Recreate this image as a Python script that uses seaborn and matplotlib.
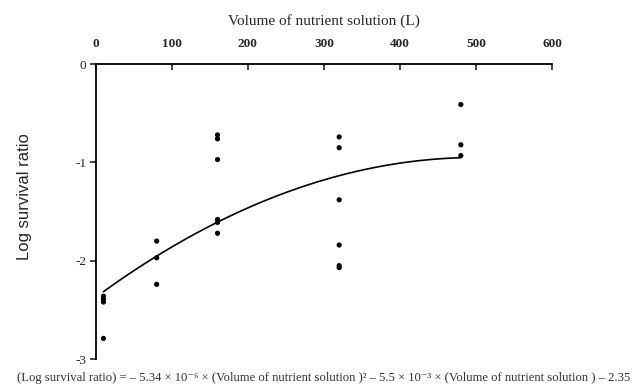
import numpy as np
import pandas as pd
import matplotlib
matplotlib.use("Agg")
import matplotlib.pyplot as plt
import seaborn as sns

volume = [10, 10, 10, 10,
          80, 80, 80,
          160, 160, 160, 160, 160, 160,
          320, 320, 320, 320, 320, 320,
          480, 480, 480]
log_survival = [-2.36, -2.39, -2.42, -2.79,
                -1.80, -1.97, -2.24,
                -0.72, -0.76, -0.97, -1.58, -1.61, -1.72,
                -0.74, -0.85, -1.38, -1.84, -2.05, -2.07,
                -0.41, -0.82, -0.93]

x_ticks = [0, 100, 200, 300, 400, 500, 600]
y_ticks = [0, -1, -2, -3]

df = pd.DataFrame({"volume": volume, "log_survival": log_survival})

sns.set_style("white")
plt.rcParams['font.family'] = ['Liberation Serif', 'DejaVu Serif']

fig = plt.figure(figsize=(6.39, 3.89), dpi=100)
ax = fig.add_axes([0.150, 0.077, 0.714, 0.758])

# scatter of points + second-order fit
sns.scatterplot(data=df, x="volume", y="log_survival", color="black",
                s=14, edgecolor="none", ax=ax, zorder=3)
sns.regplot(data=df, x="volume", y="log_survival", order=2, ci=None,
            scatter=False, color="black", line_kws={"lw": 1.2}, ax=ax)

ax.set_xlim(0, 600)
ax.set_ylim(-3, 0)
ax.set_xticks(x_ticks)
ax.set_yticks(y_ticks)
ax.set_yticklabels([str(v) for v in y_ticks], fontsize=9.5)

# x axis on top, only left and top spines
ax.xaxis.tick_top()
ax.xaxis.set_label_position("top")
for side in ["right", "bottom"]:
    ax.spines[side].set_visible(False)
for side in ["left", "top"]:
    ax.spines[side].set_color("black")
    ax.spines[side].set_linewidth(1.3)
ax.tick_params(axis="x", top=True, bottom=False, direction="in", length=4,
               width=1.2, pad=10, labelsize=9.5)
for lab in ax.get_xticklabels():
    lab.set_fontweight("bold")
ax.tick_params(axis="y", left=True, direction="out", length=4, width=1.2, pad=3)

ax.set_xlabel("Volume of nutrient solution (L)", fontsize=11, labelpad=10)
ax.set_ylabel("Log survival ratio", fontsize=12, family="Liberation Sans")
ax.yaxis.set_label_coords(-0.14, 0.55)

fig.text(0.027, 0.028,
         "(Log survival ratio) = \u2013 5.34 \u00d7 10\u207b\u2076 \u00d7 (Volume of nutrient solution )\u00b2 "
         "\u2013 5.5 \u00d7 10\u207b\u00b3 \u00d7 (Volume of nutrient solution ) \u2013 2.35",
         fontsize=9.1, color="#333333", ha="left", va="center")

plt.savefig("out.png", dpi=100)
